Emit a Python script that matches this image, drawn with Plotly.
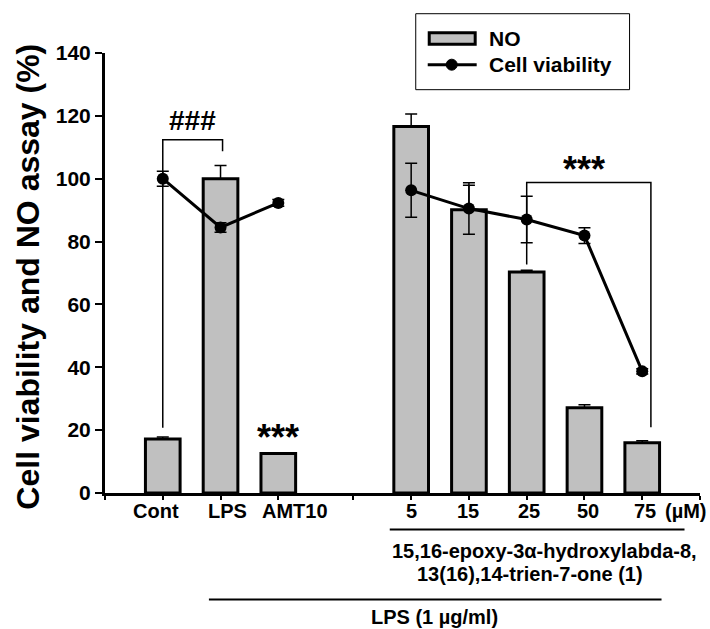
import plotly.graph_objects as go

# ---- data -------------------------------------------------------------
treat_labels = ["Cont", "LPS", "AMT10"]
conc_labels = ["5", "15", "25", "50", "75"]

no_values = [17.2, 100.0, 12.6, 116.6, 90.1, 70.3, 27.1, 16.0]
no_errors = [0.6, 4.2, 0.0, 4.0, 7.8, 0.6, 1.0, 0.6]

cv_values = [100.0, 84.5, 92.3, 96.3, 90.5, 87.0, 81.9, 38.7]
cv_errors = [2.4, 1.5, 1.1, 8.6, 8.2, 7.4, 2.5, 0.8]

y_ticks = [0, 20, 40, 60, 80, 100, 120, 140]

# ---- layout helpers ---------------------------------------------------
W, H = 710, 629
L, R, T, B = 105, 700.5, 53.3, 493.5
X_MAX = 10.3
FONT = "Arial, Liberation Sans, sans-serif"


def px_x(p):
    return (p - L) / (R - L)


def px_y(p):
    return (B - p) / (B - T)


# treatments sit at 1..3, the compound series after a wider gap
x_pos = [1 + i for i in range(len(treat_labels))] + \
        [5.3 + i for i in range(len(conc_labels))]

fig = go.Figure()

fig.add_trace(go.Bar(
    x=x_pos, y=no_values, width=0.6,
    marker=dict(color="#c0c0c0", line=dict(color="black", width=3)),
    error_y=dict(type="data", symmetric=False, array=no_errors,
                 arrayminus=[0] * len(no_errors),
                 color="black", thickness=1.5, width=6),
    showlegend=False, name="NO",
))

fig.add_trace(go.Scatter(
    x=x_pos[:3], y=cv_values[:3], mode="lines+markers",
    line=dict(color="black", width=3),
    marker=dict(color="black", size=12),
    error_y=dict(type="data", array=cv_errors[:3], color="black",
                 thickness=1.5, width=6),
    showlegend=False, name="Cell viability",
))
fig.add_trace(go.Scatter(
    x=x_pos[3:], y=cv_values[3:], mode="lines+markers",
    line=dict(color="black", width=3),
    marker=dict(color="black", size=12),
    error_y=dict(type="data", array=cv_errors[3:], color="black",
                 thickness=1.5, width=6),
    showlegend=False, name="Cell viability",
))

shapes = []
annotations = []


def note(text, x, y, font, xref="paper", yref="paper", **kw):
    d = dict(x=x, y=y, xref=xref, yref=yref, text=text, showarrow=False,
             xanchor="center", yanchor="middle", font=font)
    d.update(kw)
    annotations.append(d)


# significance bracket: Cont vs LPS
b1_top = 112.4
b1_left, b1_right = x_pos[0], x_pos[1] + 0.035
shapes.append(dict(
    type="path", xref="x", yref="y",
    path=(f"M{b1_left},{no_values[0] + no_errors[0] + 3} "
          f"L{b1_left},{b1_top} L{b1_right},{b1_top} "
          f"L{b1_right},{no_values[1] + no_errors[1] + 4.5}"),
    line=dict(color="black", width=1.5)))
note("###", (b1_left + b1_right) / 2, b1_top + 6.0,
     dict(family=FONT, size=28, color="black", weight="bold"),
     xref="x", yref="y")

# significance bracket over the compound series
b2_top = 98.8
b2_left, b2_right = x_pos[5], x_pos[7] + 0.15
shapes.append(dict(
    type="path", xref="x", yref="y",
    path=(f"M{b2_left},{no_values[5] + no_errors[5] + 1.8} "
          f"L{b2_left},{b2_top} L{b2_right},{b2_top} "
          f"L{b2_right},{no_values[7] + no_errors[7] + 4.3}"),
    line=dict(color="black", width=1.5)))
star_font = dict(family=FONT, size=36, color="black", weight="bold")
note("***", x_pos[6], b2_top - 3.0, star_font, xref="x", yref="y",
     yanchor="bottom")
note("***", x_pos[2], no_values[2] - 2.2, star_font, xref="x", yref="y",
     yanchor="bottom")

# category labels under the axis
lab_font = dict(family=FONT, size=20, color="black", weight="bold")
label_shift = [-7, 7, 17, 0, -1, 2, 4, 3]
for xp, lab, sh in zip(x_pos, treat_labels + conc_labels, label_shift):
    note(lab, xp, px_y(512), lab_font, xref="x", xshift=sh)
note("(µM)", px_x(686), px_y(512), lab_font)

# group underlines and captions
shapes.append(dict(type="line", xref="paper", yref="paper",
                   x0=px_x(390), x1=px_x(685), y0=px_y(530), y1=px_y(530),
                   line=dict(color="black", width=2)))
note("15,16-epoxy-3α-hydroxylabda-8,", px_x(545), px_y(552), lab_font)
note("13(16),14-trien-7-one (1)", px_x(530), px_y(575), lab_font)
shapes.append(dict(type="line", xref="paper", yref="paper",
                   x0=px_x(209), x1=px_x(662), y0=px_y(600), y1=px_y(600),
                   line=dict(color="black", width=2)))
note("LPS (1 µg/ml)", px_x(435), px_y(618), lab_font)

# y-axis title
note("Cell viability and NO assay (%)", px_x(28), px_y(277),
     dict(family=FONT, size=32, color="black", weight="bold"),
     textangle=-90)

# legend box
shapes.append(dict(type="rect", xref="paper", yref="paper",
                   x0=px_x(416), x1=px_x(630), y0=px_y(90), y1=px_y(14),
                   line=dict(color="black", width=1), fillcolor="white"))
shapes.append(dict(type="rect", xref="paper", yref="paper",
                   x0=px_x(429.5), x1=px_x(475.5), y0=px_y(44.5),
                   y1=px_y(33), fillcolor="#c0c0c0",
                   line=dict(color="black", width=3)))
shapes.append(dict(type="line", xref="paper", yref="paper",
                   x0=px_x(428), x1=px_x(477), y0=px_y(65), y1=px_y(65),
                   line=dict(color="black", width=3)))
shapes.append(dict(type="circle", xref="paper", yref="paper",
                   x0=px_x(446.5), x1=px_x(457.5), y0=px_y(70.5),
                   y1=px_y(59.5), fillcolor="black",
                   line=dict(color="black", width=1)))
leg_font = dict(family=FONT, size=21, color="black", weight="bold")
note("NO", px_x(487), px_y(39), leg_font, xanchor="left")
note("Cell viability", px_x(487), px_y(65), leg_font, xanchor="left")

tick_x = [0] + x_pos[:3] + [4.3] + x_pos[3:] + [X_MAX]

fig.update_layout(
    width=W, height=H,
    margin=dict(l=L, r=W - R, t=T, b=H - B, pad=0),
    paper_bgcolor="white", plot_bgcolor="white",
    shapes=shapes, annotations=annotations,
    showlegend=False,
    xaxis=dict(range=[0, X_MAX], tickvals=tick_x, showticklabels=False,
               ticks="outside", ticklen=4, tickwidth=1.5, tickcolor="black",
               showline=True, linecolor="black", linewidth=3,
               showgrid=False, zeroline=False),
    yaxis=dict(range=[0, 140], tickvals=y_ticks, ticks="outside", ticklen=7,
               tickwidth=2, tickcolor="black", showline=True,
               linecolor="black", linewidth=3, showgrid=False,
               zeroline=False,
               tickfont=dict(family=FONT, size=21, color="black",
                             weight="bold")),
)

fig.write_html("out.html")
